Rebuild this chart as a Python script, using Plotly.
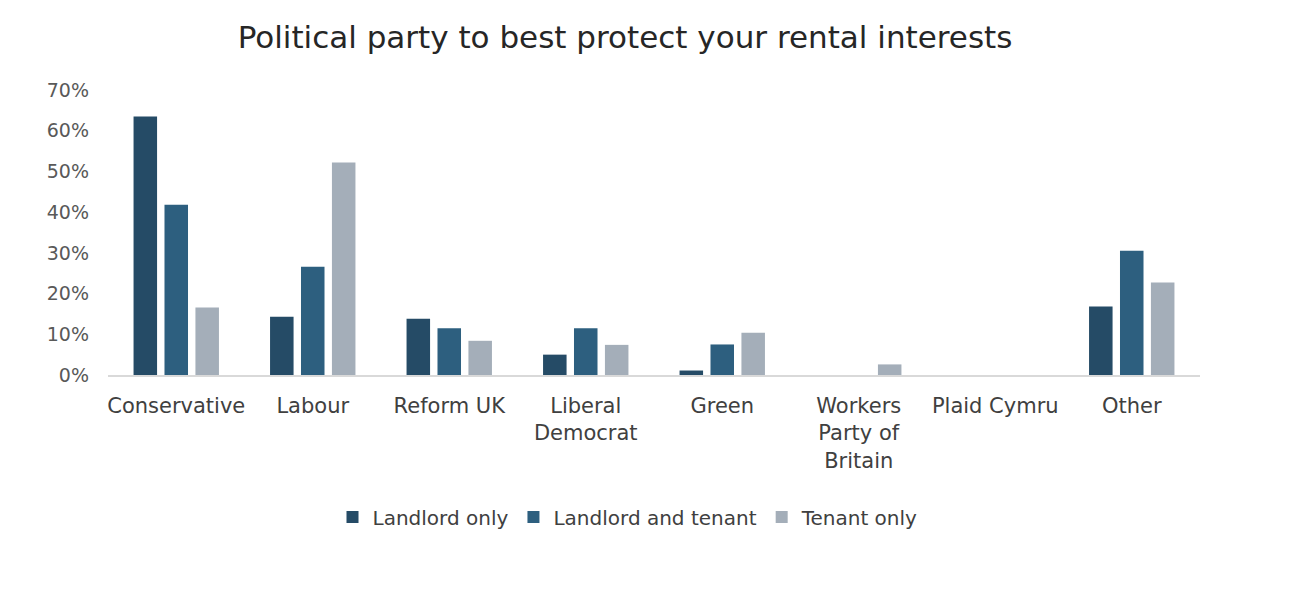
import plotly.graph_objects as go

categories = ["Conservative", "Labour", "Reform UK", "Liberal<br>Democrat", "Green",
              "Workers<br>Party of<br>Britain", "Plaid Cymru", "Other"]
landlord_only = [63.5, 14.3, 13.8, 5.0, 1.1, 0, 0, 16.8]
landlord_and_tenant = [41.8, 26.6, 11.5, 11.5, 7.5, 0, 0, 30.5]
tenant_only = [16.6, 52.2, 8.4, 7.4, 10.4, 2.6, 0, 22.7]
y_ticks = [0, 10, 20, 30, 40, 50, 60, 70]
y_tick_labels = ["0%", "10%", "20%", "30%", "40%", "50%", "60%", "70%"]

FONT = "DejaVu Sans"
fig = go.Figure()
for name, vals, col in [("Landlord only", landlord_only, "#254B66"),
                        ("Landlord and tenant", landlord_and_tenant, "#2D5F7F"),
                        ("Tenant only", tenant_only, "#A4AEB9")]:
    fig.add_trace(go.Bar(x=categories, y=vals, name=name, marker_color=col,
                         marker_line_width=0))

# page body adds an 8px offset, compensate in margins
fig.update_layout(
    width=1302, height=592,
    paper_bgcolor="white", plot_bgcolor="white",
    margin=dict(l=100, r=110, t=82, b=225),
    barmode="group", bargap=0.32, bargroupgap=0.24,
    title=dict(text="Political party to best protect your rental interests",
               x=(625 - 8) / 1302, xanchor="center", y=1 - (37 - 8) / 592, yanchor="middle",
               font=dict(family=FONT, size=31, color="#262626")),
    font=dict(family=FONT, color="#404040"),
    legend=dict(orientation="h", x=(628 - 8 - 100) / (1302 - 210), xanchor="center",
                y=-(517 - 8 - 82 - 285) / 285, yanchor="middle",
                font=dict(family=FONT, size=20, color="#404040"),
                traceorder="normal", itemwidth=30),
    showlegend=True,
)
fig.update_xaxes(showline=True, linecolor="#D9D9D9", linewidth=1.5,
                 tickfont=dict(family=FONT, size=21, color="#404040"),
                 ticks="", ticklabelstandoff=11, showgrid=False)
fig.update_yaxes(range=[0, 70], tickvals=y_ticks, ticktext=y_tick_labels,
                 showgrid=False, zeroline=False, showline=False,
                 tickfont=dict(family=FONT, size=19, color="#595959"),
                 ticklabelstandoff=18)
fig.write_html("out.html")
